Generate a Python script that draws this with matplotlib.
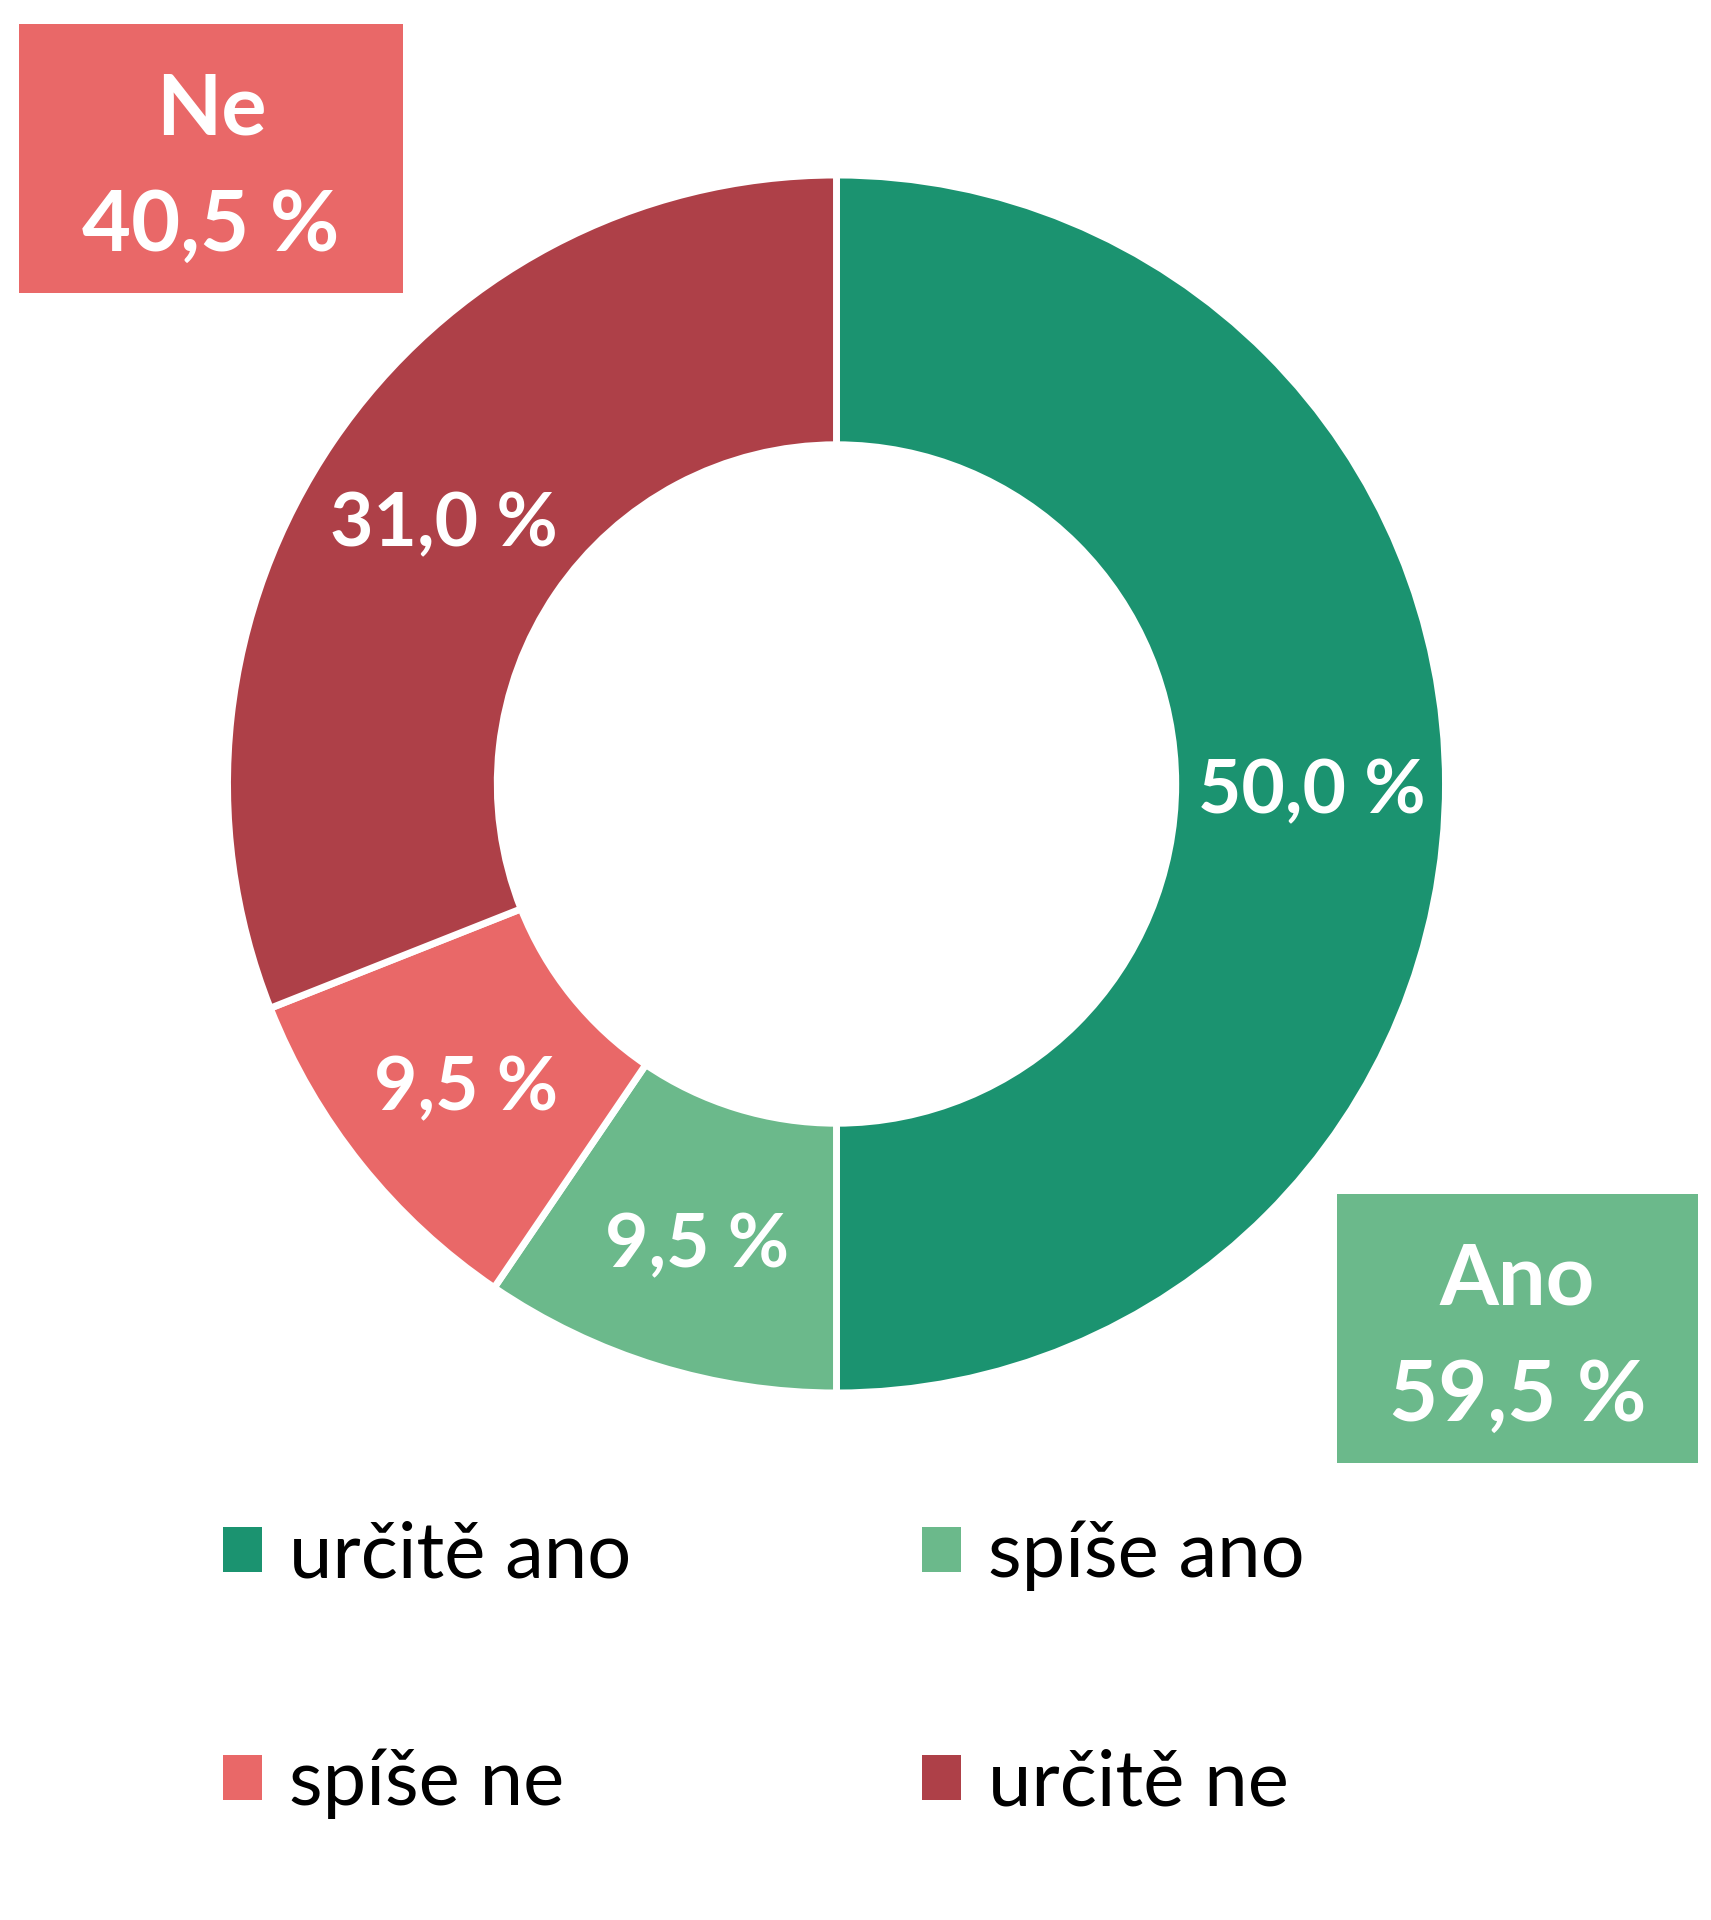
import matplotlib.pyplot as plt
from matplotlib.patches import Rectangle

# data
categories = ["určitě ano", "spíše ano", "spíše ne", "určitě ne"]
values = [50.0, 9.5, 9.5, 31.0]
colors = ["#1B9370", "#6BB98B", "#E96868", "#AE4048"]
group_names = ["Ano", "Ne"]
group_members = [[0, 1], [2, 3]]

plt.rcParams['font.family'] = ['Lato', 'DejaVu Sans']

W, H = 1711, 1920
fig = plt.figure(figsize=(W / 100, H / 100), dpi=100)

# donut, centre (836, 784) px, outer radius 609 px
cx, cy, R = 836.5, 784, 609
ax = fig.add_axes([(cx - R) / W, (H - cy - R) / H, 2 * R / W, 2 * R / H])

def fmt(v):
    return f"{v:.1f} %".replace('.', ',')

wedges, texts, autotexts = ax.pie(
    values, colors=colors, startangle=90, counterclock=False,
    radius=1.0, pctdistance=0.78,
    autopct=lambda p: fmt(p),
    wedgeprops=dict(width=0.443, edgecolor='white', linewidth=5),
    textprops=dict(color='white', fontsize=54, fontweight='bold'))
ax.set_xlim(-1, 1)
ax.set_ylim(-1, 1)
# labels sit a touch lower in the original
for t in autotexts:
    x, y = t.get_position()
    t.set_position((x, y - 0.012))

# group boxes (Ne top-left, Ano bottom-right)
boxes = {
    "Ne": ((19, 24, 403, 293), colors[2]),
    "Ano": ((1337, 1194, 1698, 1463), colors[1]),
}
for name, members in zip(group_names, group_members):
    (x0, y0, x1, y1), col = boxes[name]
    total = sum(values[i] for i in members)
    fig.patches.append(Rectangle((x0 / W, 1 - y1 / H), (x1 - x0) / W, (y1 - y0) / H,
                                 transform=fig.transFigure, facecolor=col,
                                 edgecolor='none'))
    fig.text((x0 + x1) / 2 / W, 1 - ((y0 + y1) / 2 + 10) / H, f"{name}\n{fmt(total)}",
             ha='center', va='center', color='white', fontsize=61,
             fontweight='bold', linespacing=1.62)

# legend, filled row by row
order = [0, 2, 1, 3]
leg = fig.legend([wedges[i] for i in order], [categories[i] for i in order],
                 ncol=2, loc='upper left', bbox_to_anchor=(223 / W, 1 - 1520 / H),
                 frameon=False, fontsize=56, handlelength=0.5, handleheight=0.5,
                 handletextpad=0.35, columnspacing=3.74, labelspacing=2.02,
                 borderpad=0, borderaxespad=0)
for h in leg.legend_handles:
    h.set_edgecolor('none')

fig.savefig("out.png", dpi=100)
